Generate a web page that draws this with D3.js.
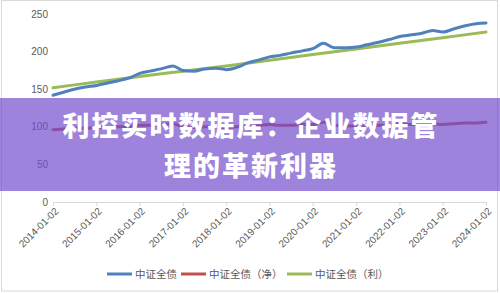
<!DOCTYPE html>
<html><head><meta charset="utf-8">
<script src="https://cdn.jsdelivr.net/npm/d3@7"></script>
<style>html,body{margin:0;padding:0;background:#fff;}svg{display:block;}</style>
</head><body>
<script>
// ---- data ----
const quarterDates = ["2014-01-02","2014-04-01","2014-07-01","2014-10-01","2015-01-05","2015-04-01","2015-07-01","2015-10-08",
"2016-01-04","2016-04-01","2016-07-01","2016-10-10","2017-01-03","2017-04-05","2017-07-03","2017-10-09",
"2018-01-02","2018-04-02","2018-07-02","2018-10-08","2019-01-02","2019-04-01","2019-07-01","2019-10-08",
"2020-01-02","2020-04-01","2020-07-01","2020-10-09","2021-01-04","2021-04-01","2021-07-01","2021-10-08",
"2022-01-04","2022-04-01","2022-07-01","2022-10-10","2023-01-03","2023-04-03","2023-07-03","2023-10-09","2024-01-02"];
const fullBond = [142,146,150,153,155,158,161,165,171,174,177,181,175,174,177,178,176,179,185,189,193,195,198,201,204,211,205,205,206,209,212,216,220,222,224,228,226,230,234,237,238];
const netBond = [96,97,98,98,99,99,100,100,102,102,103,104,100,99,100,100,99,100,101,102,103,102,102,103,103,106,102,101,101,101,102,102,104,103,103,104,103,104,105,105,106];
const yearDates = ["2014-01-02","2015-01-02","2016-01-02","2017-01-02","2018-01-02","2019-01-02","2020-01-02","2021-01-02","2022-01-02","2023-01-02","2024-01-02"];
const interestBond = [152,159.5,167,174,181,188.5,196,203.5,211,218.5,226];
const yTicks = [0,50,100,150,200,250];
const xTickLabels = yearDates;
const seriesNames = ["中证全债","中证全债（净）","中证全债（利）"];
const colors = ["#4f81bd","#c0504d","#9bbb59"];
const titleLines = ["利控实时数据库：企业数据管","理的革新利器"];

const W=500,H=293;
const parse=d3.timeParse("%Y-%m-%d");
const svg=d3.select("body").append("svg").attr("width",W).attr("height",H);
svg.append("rect").attr("x",1.5).attr("y",0.5).attr("width",496).attr("height",290.5).attr("fill","#fff").attr("stroke","#d9d9d9");

const x=d3.scaleTime().domain([parse("2014-01-02"),parse("2024-01-02")]).range([53,486]);
const y=d3.scaleLinear().domain([0,250]).range([202,14]);
const font="'Noto Sans CJK SC','Noto Sans',sans-serif";

// y labels
svg.append("g").selectAll("text").data(yTicks).join("text")
  .attr("x",48).attr("y",d=>y(d)).attr("dy","0.35em").attr("text-anchor","end")
  .attr("font-family","'Liberation Sans',Arial,sans-serif").attr("font-size",10).attr("fill","#595959").text(d=>d);

// x axis
const xa=svg.append("g").attr("transform",`translate(0,${y(0)})`)
  .call(d3.axisBottom(x).tickValues(xTickLabels.map(parse)).tickSize(4).tickFormat(d3.timeFormat("%Y-%m-%d")));
xa.select(".domain").attr("stroke","#d9d9d9").attr("d","M53,0.5H486");
xa.selectAll(".tick line").attr("stroke","#d9d9d9");
xa.selectAll(".tick text").attr("font-family","'Liberation Sans',Arial,sans-serif").attr("font-size",10).attr("fill","#595959")
  .attr("text-anchor","end").attr("transform","rotate(-45)").attr("dx","-0.3em").attr("dy","0.6em").attr("y",5).attr("x",0);

const line=d3.line().x(d=>x(d[0])).y(d=>y(d[1])).curve(d3.curveMonotoneX);
const sets=[
  quarterDates.map((d,i)=>[parse(d),fullBond[i]]),
  quarterDates.map((d,i)=>[parse(d),netBond[i]]),
  yearDates.map((d,i)=>[parse(d),interestBond[i]])
];
[1,2,0].forEach(k=>{
  svg.append("path").attr("d",line(sets[k])).attr("fill","none").attr("stroke",colors[k]).attr("stroke-width",3).attr("stroke-linecap","round");
});

// legend
const legX=[107,181,287];
seriesNames.forEach((n,i)=>{
  svg.append("line").attr("x1",legX[i]).attr("x2",legX[i]+25).attr("y1",274).attr("y2",274).attr("stroke",colors[i]).attr("stroke-width",3);
  svg.append("text").attr("x",legX[i]+28).attr("y",274).attr("dy","0.35em").attr("font-family",font).attr("font-size",10.5).attr("fill","#595959").text(n);
});

// banner
svg.append("rect").attr("x",0).attr("y",98).attr("width",W).attr("height",93).attr("fill","rgba(116,79,205,0.7)");
svg.selectAll(".t").data(titleLines).join("text").attr("class","t")
  .attr("x",251).attr("y",(d,i)=>126.5+i*39.3).attr("dy","0.36em").attr("text-anchor","middle")
  .attr("font-family",font).attr("font-weight",900).attr("font-size",27).attr("letter-spacing",2).attr("fill","#fff").text(d=>d);
</script>
</body></html>
